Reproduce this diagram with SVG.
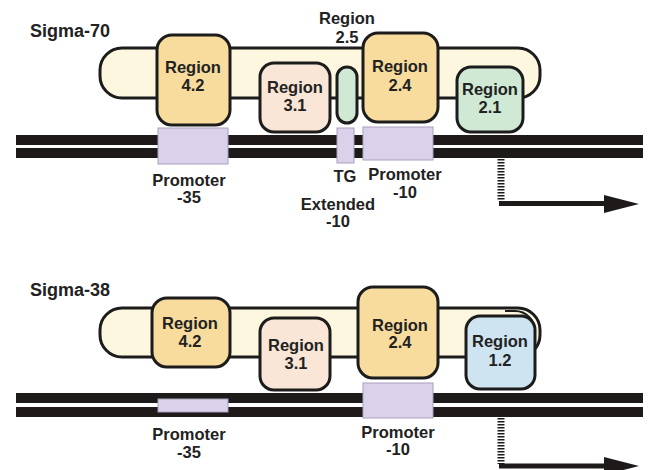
<svg xmlns="http://www.w3.org/2000/svg" width="649" height="470" viewBox="0 0 649 470">
<defs>
<style>
text{font-family:"Liberation Sans",Arial,Helvetica,sans-serif;font-weight:bold;fill:#222;text-anchor:middle;font-size:16.5px}
.title{text-anchor:start;font-size:18px}
.pill{fill:#fcf7de;stroke:#1c1c1c;stroke-width:3}
.gold{fill:#f7dc9e;stroke:#1c1c1c;stroke-width:3}
.peach{fill:#f9e6d6;stroke:#1c1c1c;stroke-width:3}
.green{fill:#d0e9d4;stroke:#1c1c1c;stroke-width:3}
.blue{fill:#cfe4f1;stroke:#1c1c1c;stroke-width:3}
.dna{fill:#1e1a1a}
.prom{fill:#dad1ea;stroke:#a89fbd;stroke-width:1}
.dash{stroke:#1e1a1a;stroke-width:7;stroke-dasharray:1.5 1.5;fill:none}
.arr{stroke:#1e1a1a;stroke-width:5;fill:none}
.head{fill:#1e1a1a}
</style>
</defs>
<rect width="649" height="470" fill="#fff"/>

<!-- ===== Sigma-70 ===== -->
<g id="sigma70-label"><text class="title" x="30" y="37">Sigma-70</text></g>
<g id="sigma70-body"><rect class="pill" x="100" y="48" width="440" height="50" rx="22"/></g>
<g id="s70-region42"><rect class="gold" x="157" y="35" width="73" height="90" rx="15"/><text x="193" y="73">Region</text><text x="193" y="91">4.2</text></g>
<g id="s70-region31"><rect class="peach" x="260" y="63" width="70" height="69" rx="14"/><text x="295" y="93">Region</text><text x="295" y="111">3.1</text></g>
<g id="s70-region25"><rect class="green" x="337" y="67" width="20" height="56" rx="10"/><text x="347" y="24">Region</text><text x="347" y="43">2.5</text></g>
<g id="s70-region24"><rect class="gold" x="363" y="33" width="75" height="89" rx="15"/><text x="400" y="72">Region</text><text x="400" y="91">2.4</text></g>
<g id="s70-region21"><rect class="green" x="457" y="67" width="66" height="65" rx="14"/><text x="490" y="95">Region</text><text x="490" y="113">2.1</text></g>
<g id="s70-dna"><rect class="dna" x="16" y="135" width="627" height="10"/><rect class="dna" x="16" y="148" width="627" height="10"/></g>
<g id="s70-promoter35"><rect class="prom" x="158" y="128" width="70" height="36"/><text x="189" y="186">Promoter</text><text x="189" y="203">-35</text></g>
<g id="s70-tg"><rect class="prom" x="337" y="128" width="17" height="35"/><text x="345" y="182">TG</text><text x="338" y="210">Extended</text><text x="338" y="227">-10</text></g>
<g id="s70-promoter10"><rect class="prom" x="363" y="127" width="70" height="33"/><text x="405" y="180">Promoter</text><text x="405" y="198">-10</text></g>

<!-- ===== Sigma-38 ===== -->
<g id="sigma38-label"><text class="title" x="30" y="296">Sigma-38</text></g>
<g id="sigma38-body"><rect class="pill" x="100" y="308" width="440" height="49" rx="22"/><path d="M505,311 H515 a20,20 0 0 1 20,20 V340" fill="none" stroke="#1c1c1c" stroke-width="2"/></g>
<g id="s38-region42"><rect class="gold" x="152" y="298" width="78" height="69" rx="15"/><text x="190" y="329">Region</text><text x="190" y="347">4.2</text></g>
<g id="s38-region31"><rect class="peach" x="260" y="318" width="70" height="72" rx="14"/><text x="296" y="351">Region</text><text x="296" y="369">3.1</text></g>
<g id="s38-region24"><rect class="gold" x="358" y="287" width="80" height="91" rx="15"/><text x="400" y="331">Region</text><text x="400" y="348">2.4</text></g>
<g id="s38-region12"><rect class="blue" x="466" y="316" width="69" height="73" rx="14"/><text x="500" y="347">Region</text><text x="500" y="366">1.2</text></g>
<g id="s38-dna"><rect class="dna" x="16" y="393" width="627" height="10"/><rect class="dna" x="16" y="407" width="627" height="10"/></g>
<g id="s38-promoter35"><rect class="prom" x="158" y="399" width="70" height="13"/><text x="189" y="440">Promoter</text><text x="189" y="458">-35</text></g>
<g id="s38-promoter10"><rect class="prom" x="363" y="383" width="70" height="35"/><text x="398" y="438">Promoter</text><text x="398" y="455">-10</text></g>

<!-- ===== connectors (transcription start arrows) ===== -->
<g id="connectors">
<line class="dash" x1="501" y1="159" x2="501" y2="201"/>
<path class="arr" d="M499,203.5 H615"/>
<path class="head" d="M604,195 L639,204 L604,213 Z"/>
<line class="dash" x1="501" y1="418" x2="501" y2="464"/>
<path class="arr" d="M499,466 H615"/>
<path class="head" d="M604,457 L639,466 L604,475 Z"/>
</g>
</svg>
